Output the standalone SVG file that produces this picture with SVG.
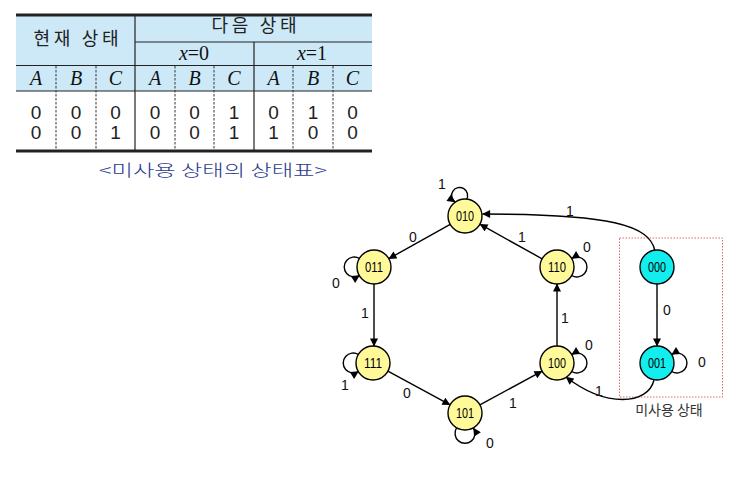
<svg xmlns="http://www.w3.org/2000/svg" width="741" height="480" viewBox="0 0 741 480">
<defs>
<marker id="ah" viewBox="0 0 10 10" refX="9.5" refY="5" markerWidth="9" markerHeight="8" markerUnits="userSpaceOnUse" orient="auto">
<path d="M0,0 L10,5 L0,10 z" fill="#000"/>
</marker>
<style>
.kr{font-family:"Noto Sans CJK KR","Noto Sans",sans-serif;}
.it{font-family:"Liberation Serif",serif;font-style:italic;font-size:20px;text-anchor:middle;fill:#111;}
.dg{font-family:"Liberation Sans",Arial,sans-serif;font-size:19px;text-anchor:middle;fill:#222;}
.th{stroke:#222;stroke-width:1.2;fill:none;}
.dash{stroke:#333;stroke-width:1;stroke-dasharray:2.5 1.5;fill:none;}
.node circle{stroke:#000;stroke-width:1.4;}
.y circle{fill:#fff99a;}
.c circle{fill:#12eeee;}
.node text{font-family:"Liberation Sans",Arial,sans-serif;font-size:14.5px;text-anchor:middle;fill:#000;}
.edge{stroke:#000;stroke-width:1.4;fill:none;marker-end:url(#ah);}
.lbl{font-family:"Liberation Sans",Arial,sans-serif;font-size:14px;text-anchor:middle;fill:#111;}
</style>
</defs>
<rect width="741" height="480" fill="#fff"/>

<g id="table">
<rect x="16" y="15" width="356" height="76" fill="#cde9f8"/>
<line x1="16" y1="15" x2="372" y2="15" stroke="#222" stroke-width="3"/>
<line x1="16" y1="151" x2="372" y2="151" stroke="#222" stroke-width="3"/>
<line class="th" x1="135" y1="42" x2="372" y2="42"/>
<line class="th" x1="16" y1="65.5" x2="372" y2="65.5"/>
<line class="th" x1="16" y1="91" x2="372" y2="91"/>
<line class="th" x1="135" y1="15" x2="135" y2="150"/>
<line class="th" x1="254" y1="42" x2="254" y2="150"/>
<line class="dash" x1="56" y1="66" x2="56" y2="150"/>
<line class="dash" x1="96" y1="66" x2="96" y2="150"/>
<line class="dash" x1="175" y1="66" x2="175" y2="150"/>
<line class="dash" x1="214" y1="66" x2="214" y2="150"/>
<line class="dash" x1="293" y1="66" x2="293" y2="150"/>
<line class="dash" x1="333" y1="66" x2="333" y2="150"/>
<text class="kr" x="76" y="45" font-size="18" text-anchor="middle" fill="#222" textLength="85" lengthAdjust="spacing">현재 상태</text>
<text class="kr" x="254" y="32" font-size="18" text-anchor="middle" fill="#222" textLength="85" lengthAdjust="spacing">다음 상태</text>
<text class="it" x="194" y="60"><tspan>x</tspan><tspan font-style="normal">=0</tspan></text>
<text class="it" x="312" y="60"><tspan>x</tspan><tspan font-style="normal">=1</tspan></text>
<g class="it">
<text x="36" y="85">A</text><text x="76" y="85">B</text><text x="115.5" y="85">C</text>
<text x="155" y="85">A</text><text x="194.5" y="85">B</text><text x="234" y="85">C</text>
<text x="273.5" y="85">A</text><text x="313" y="85">B</text><text x="352.5" y="85">C</text>
</g>
<g class="dg">
<text x="36" y="119">0</text><text x="76" y="119">0</text><text x="115.5" y="119">0</text>
<text x="155" y="119">0</text><text x="194.5" y="119">0</text><text x="234" y="119">1</text>
<text x="273.5" y="119">0</text><text x="313" y="119">1</text><text x="352.5" y="119">0</text>
<text x="36" y="139">0</text><text x="76" y="139">0</text><text x="115.5" y="139">1</text>
<text x="155" y="139">0</text><text x="194.5" y="139">0</text><text x="234" y="139">1</text>
<text x="273.5" y="139">1</text><text x="313" y="139">0</text><text x="352.5" y="139">0</text>
</g>
<text class="kr" x="213" y="176" font-size="16" font-weight="300" text-anchor="middle" fill="#2a3a8c" textLength="228" lengthAdjust="spacingAndGlyphs">&lt;미사용 상태의 상태표&gt;</text>
</g>

<rect id="unused-box" x="619.5" y="238" width="103" height="159" fill="none" stroke="#e06a6a" stroke-width="1" stroke-dasharray="1.5 1.5"/>

<g id="connectors">
<path class="edge" d="M466.5,199.5 A8,8 0 1 0 455,202"/>
<path class="edge" d="M450.2,224.3 L388.8,258.7"/>
<path class="edge" d="M359.5,258.5 A10,10 0 1 0 359.5,275.5"/>
<path class="edge" d="M374,284 L374,346"/>
<path class="edge" d="M358.5,354.5 A10,10 0 1 0 358.5,371.5"/>
<path class="edge" d="M387.9,371.1 L450.1,404.9"/>
<path class="edge" d="M456.5,428 A10,10 0 1 0 473.5,428"/>
<path class="edge" d="M479.9,404.9 L542.1,371.1"/>
<path class="edge" d="M557,346 L557,284"/>
<path class="edge" d="M571.7,371.5 A10,10 0 1 0 571.7,354.5"/>
<path class="edge" d="M571.7,275.5 A10,10 0 1 0 571.7,258.5"/>
<path class="edge" d="M542.1,258.8 L479.9,224.2"/>
<path class="edge" d="M655,251 C650,225 610,214 482.5,214"/>
<path class="edge" d="M657,280 L657,346"/>
<path class="edge" d="M671.7,371.5 A10,10 0 1 0 671.7,354.5"/>
<path class="edge" d="M654,380 C648,405 606,408 566,377"/>
</g>

<g id="edge-labels" class="lbl">
<text x="442" y="189">1</text>
<text x="413" y="242">0</text>
<text x="336" y="288">0</text>
<text x="365" y="318">1</text>
<text x="345" y="390">1</text>
<text x="407" y="398">0</text>
<text x="490" y="448">0</text>
<text x="513" y="408">1</text>
<text x="589" y="350">0</text>
<text x="565" y="323">1</text>
<text x="587" y="252">0</text>
<text x="522" y="242">1</text>
<text x="570" y="216">1</text>
<text x="667" y="315">0</text>
<text x="702" y="367">0</text>
<text x="599" y="396">1</text>
</g>

<g id="n010" class="node y"><circle cx="465" cy="216" r="17"/><text x="465" y="221" textLength="18" lengthAdjust="spacingAndGlyphs">010</text></g>
<g id="n011" class="node y"><circle cx="374" cy="267" r="17"/><text x="374" y="272" textLength="18" lengthAdjust="spacingAndGlyphs">011</text></g>
<g id="n110" class="node y"><circle cx="557" cy="267" r="17"/><text x="557" y="272" textLength="18" lengthAdjust="spacingAndGlyphs">110</text></g>
<g id="n000" class="node c"><circle cx="657" cy="267" r="17"/><text x="657" y="272" textLength="18" lengthAdjust="spacingAndGlyphs">000</text></g>
<g id="n111" class="node y"><circle cx="373" cy="363" r="17"/><text x="373" y="368" textLength="18" lengthAdjust="spacingAndGlyphs">111</text></g>
<g id="n100" class="node y"><circle cx="557" cy="363" r="17"/><text x="557" y="368" textLength="18" lengthAdjust="spacingAndGlyphs">100</text></g>
<g id="n001" class="node c"><circle cx="657" cy="363" r="17"/><text x="657" y="368" textLength="18" lengthAdjust="spacingAndGlyphs">001</text></g>
<g id="n101" class="node y"><circle cx="465" cy="413" r="17"/><text x="465" y="418" textLength="18" lengthAdjust="spacingAndGlyphs">101</text></g>

<text id="unused-label" class="kr" x="669" y="415" font-size="14" text-anchor="middle" fill="#333">미사용 상태</text>
</svg>
